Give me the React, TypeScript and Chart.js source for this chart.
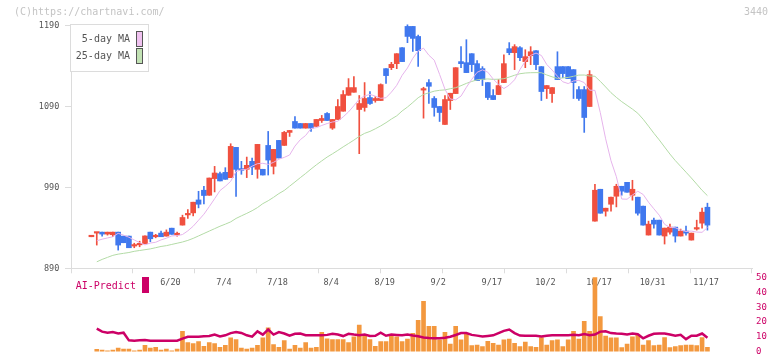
import React, { useEffect, useRef } from "react";
import { Chart, registerables } from "chart.js";

Chart.register(...registerables);

const COPYRIGHT = "(C)https://chartnavi.com/";
const STOCK_CODE = "3440";
const AI_LABEL = "AI-Predict";

const dateLabels = ["6/20", "7/4", "7/18", "8/4", "8/19", "9/2", "9/17", "10/2", "10/17", "10/31", "11/17"];
const dateIndex = [15, 25, 35, 45, 55, 65, 75, 85, 95, 105, 115];
const priceTicks = [890, 990, 1090, 1190];
const volumeTicks = [0, 10, 20, 30, 40, 50];

const opens = [
  929, 933.5, 934.7, 932.3, 931.5, 934.7, 929.8, 929.8, 917.5, 919,
  920.5, 934.7, 929, 933.5, 929.8, 939.6, 931.5, 943.4, 956, 958.5,
  974.5, 986.5, 980.3, 1000.9, 1007, 1008.6, 1002, 1039.5, 1013.2, 1012.4,
  1022.2, 1012.4, 1012.4, 1041.9, 1016.1, 1048.1, 1041.9, 1058, 1071.5, 1069,
  1063.3, 1069, 1065.4, 1072.7, 1081.4, 1063.3, 1074, 1084.2, 1103.9, 1107.6,
  1086.3, 1088.8, 1101.1, 1097.4, 1097.4, 1136.8, 1138, 1143, 1162.7, 1189,
  1189, 1176.6, 1110.3, 1119.6, 1099.9, 1090, 1067.8, 1097.4, 1106, 1145.5,
  1144.2, 1155.3, 1143, 1136.8, 1119.6, 1103.6, 1104.8, 1119.6, 1161.5, 1156.6,
  1162.7, 1145.5, 1152.8, 1159, 1139.3, 1112.1, 1106, 1139.3, 1139.3, 1139.3,
  1135.6, 1110.9, 1110.9, 1090, 948.3, 987.7, 960.6, 969.2, 979.1, 991.4,
  996.3, 980.3, 977.9, 966.8, 931.1, 949.5, 949.5, 929.9, 934.7, 940.9,
  929.9, 936, 924.9, 938.5, 945.8, 965.5,
];
const closes = [
  930, 934.5, 932.3, 934.7, 934.7, 918.7, 921.6, 915.4, 918.5, 920.5,
  930, 926.5, 930, 929, 934.7, 932, 933, 952.8, 957.5, 971.7,
  969.2, 980, 1001.6, 1007.8, 998, 1000, 1040.7, 1012.3, 1011.1, 1017.3,
  1015.2, 1043.2, 1005.3, 1023.8, 1037, 1026.3, 1058, 1060.4, 1063.3, 1063.3,
  1069, 1063.3, 1074, 1075.2, 1072.7, 1074, 1090, 1104.8, 1113.4, 1113.4,
  1093.7, 1099.9, 1093.7, 1099.9, 1117.1, 1128.2, 1142.1, 1155.3, 1145.5, 1176.6,
  1174.2, 1159, 1111.6, 1115, 1088.8, 1082.6, 1098.6, 1106.4, 1138, 1143,
  1131.9, 1141.8, 1122, 1123.3, 1101.1, 1098.6, 1115.9, 1143, 1156.6, 1164,
  1150.4, 1151.6, 1157.7, 1141.8, 1108.5, 1115.9, 1113.4, 1123.3, 1130.7, 1124.5,
  1119.6, 1099.9, 1076.4, 1129.4, 986.5, 958.1, 964.3, 977.9, 991.4, 985.3,
  984, 987.7, 958.1, 943.4, 944.6, 944.6, 931.1, 939.7, 940.9, 929.9,
  936, 933.5, 933.5, 939.6, 959.4, 943.4,
];
const highs = [
  930, 934.5, 934.7, 934.7, 934.7, 934.7, 929.8, 929.8, 921, 923.5,
  930, 934.7, 932, 936, 937.5, 939.6, 934.7, 955.7, 962.7, 971.7,
  985.2, 991.4, 1001.6, 1016, 1009, 1014.4, 1044, 1039.5, 1022.2, 1027.5,
  1026.3, 1043.2, 1012.4, 1059.2, 1037, 1048.1, 1059.2, 1060.4, 1077.7, 1069,
  1069, 1069, 1074, 1079, 1082.6, 1074, 1098.6, 1109.7, 1124.5, 1127,
  1103.6, 1119.6, 1108.5, 1102.3, 1118, 1136.8, 1144.6, 1155.3, 1162.7, 1191,
  1189, 1178.4, 1113.8, 1123.3, 1102.3, 1090, 1103.6, 1106.4, 1138, 1164,
  1172.6, 1155.3, 1146.7, 1139.3, 1119.6, 1111, 1123.3, 1154, 1169, 1166.5,
  1164, 1160.2, 1164, 1159, 1139.3, 1115.9, 1113.4, 1157.7, 1139.3, 1139.3,
  1135.6, 1114.7, 1114.7, 1134.4, 993.9, 987.7, 964.3, 977.9, 993.9, 991.4,
  996.3, 998.8, 977.9, 966.8, 948.3, 952, 949.5, 939.7, 944.6, 940.9,
  938.5, 942.1, 933.5, 949.5, 964.3, 970.5,
];
const lows = [
  929, 918.7, 929.8, 931, 929, 912.5, 921.6, 915.4, 915.4, 916.6,
  920.5, 922.8, 927.7, 929, 929.8, 932, 929.8, 943.4, 951.6, 954.8,
  964.7, 969.6, 980.3, 984.4, 998, 1000, 1002, 979, 1006.2, 1002.1,
  1005.8, 1001.3, 1005.3, 1005.3, 1006.6, 1026.3, 1041.9, 1053, 1063.3, 1063.3,
  1063.3, 1059.2, 1065.4, 1070.3, 1072.7, 1061.7, 1074, 1084.2, 1103.9, 1107.6,
  1031.7, 1084.2, 1092.5, 1095.3, 1097.4, 1118.4, 1135.6, 1136.8, 1145.5, 1168.9,
  1158.1, 1139.7, 1075.6, 1093.7, 1078, 1071.5, 1067.8, 1086.3, 1106, 1138,
  1131.9, 1133.2, 1122, 1115.9, 1098.6, 1098.6, 1104.8, 1119.6, 1154, 1135.6,
  1146.7, 1138, 1141.8, 1135.6, 1097.4, 1099.9, 1095, 1123.3, 1125.7, 1124.5,
  1099.9, 1097.4, 1058, 1090, 948.3, 958.1, 954.5, 960.6, 965.9, 980.3,
  984, 974.2, 955.7, 943.4, 931.1, 939.7, 931.1, 920, 932.3, 922.4,
  929.9, 931.1, 924.9, 937.2, 939.7, 937.2,
];
const volumes = [
  null, 1.5, 1.1, 0.5, 1.1, 2.3, 1.7, 1.7, 0.5, 1.1,
  4.2, 2.3, 2.9, 1.1, 1.7, 0.5, 1.7, 13.7, 6.1, 5.5,
  6.7, 3.6, 6.1, 5.5, 2.9, 4.2, 9.3, 8.1, 2.3, 1.7,
  2.3, 4.2, 9.3, 16.1, 4.8, 2.9, 7.4, 1.7, 4.2, 2.3,
  6.1, 2.3, 2.9, 13, 8.7, 8.1, 8.1, 8.1, 6.1, 9.9,
  18, 11.2, 8.1, 3.6, 6.7, 6.7, 11.2, 9.9, 6.7, 8.5,
  12.4, 21.2, 34, 17, 17, 8, 13, 5, 17, 8,
  12, 4, 4.4, 3.4, 7, 5.6, 4.4, 8, 8.5, 5.6,
  3.4, 6.5, 3.4, 2.9, 9.5, 4.4, 7.4, 8, 3.4, 8,
  13.7, 8.5, 20.5, 13.7, 50, 23.6, 10.5, 9.3, 9.3, 2.7,
  5, 10, 11.5, 4.4, 7.4, 4, 4.4, 9.5, 2.7, 3.4,
  4, 4.4, 4.4, 4, 9.5, 2.9,
];
const aiPredict = [
  null, 15.5, 13.5, 12.8, 13.2, 12.3, 12.8, 7.6, 7.4, 7.6,
  7.8, 7.4, 7.4, 7.4, 7.4, 7.4, 7.4, 8.8, 10, 10.1,
  10.1, 10.3, 10.5, 11.5, 10.2, 11, 12.5, 13.3, 12.6, 11,
  10.1, 13.7, 11.5, 14.9, 11.5, 13.2, 12.2, 10.7, 12, 12.2,
  11.1, 11.1, 11.1, 11.1, 11.3, 12, 11.5, 10.5, 12, 11.5,
  11.1, 11.5, 10.5, 10.7, 12.8, 10.7, 11.5, 11.3, 11, 11.5,
  10.9, 10.4, 9.6, 9.2, 9.1, 9.1, 9.4, 10, 11.2, 12.5,
  12.6, 11.3, 10.8, 10.2, 10.6, 11, 12.5, 14, 14.9, 12.5,
  10.8, 10.7, 10.7, 10.7, 10.2, 10.7, 11.1, 11.1, 11.1, 11.1,
  11.4, 11.1, 11.8, 11, 11.5, 13.5, 13.7, 12.5, 12.2, 12,
  11.6, 12.2, 11.8, 9, 10.7, 12, 12.2, 12.2, 11.5, 10.8,
  11.4, 8.4, 10.7, 10.7, 12.2, 9.3,
];
// moving-average values before enough closes are on the chart
const ma5Lead = [null, 924, 926, 927.5, 929];
const ma25Lead = [
  null, 898, 901, 903.5, 906, 907.5, 908.5, 909.5, 911, 912,
  913, 914, 915.5, 917, 918, 919.5, 921, 922.5, 924.5, 927,
  930, 933, 936, 939, 942,
];

const MA5_LABEL = "5-day MA";
const MA25_LABEL = "25-day MA";

function movingAverage(lead: (number | null)[], period: number): (number | null)[] {
  return closes.map((_, i) => {
    if (i < lead.length) return lead[i];
    let s = 0;
    for (let k = i - period; k < i; k++) s += closes[k];
    return s / period;
  });
}

const RED = "#f0503f";
const BLUE = "#4078ee";
const PINK = "#e6b4ec";
const GREEN = "#b3dba6";
const ORANGE = "#f3983e";
const MAGENTA = "#cc0066";
const AXIS = "#dcdcdc";
const TEXT = "#555555";
const FONT = '"DejaVu Sans Mono", monospace';

const XMIN = -3.81;
const XMAX = 123.32;

export default function App() {
  const mainRef = useRef<HTMLCanvasElement | null>(null);
  const volRef = useRef<HTMLCanvasElement | null>(null);

  useEffect(() => {
    Chart.defaults.font.family = FONT;
    const idx = closes.map((_, i) => i);
    const colors = idx.map((i) => (closes[i] >= opens[i] ? RED : BLUE));
    const ma5 = movingAverage(ma5Lead, 5);
    const ma25 = movingAverage(ma25Lead, 25);

    const mainDecor = {
      id: "mainDecor",
      afterDraw(chart: any) {
        const ctx = chart.ctx as CanvasRenderingContext2D;
        ctx.save();
        ctx.font = `10px ${FONT}`;
        ctx.textBaseline = "middle";
        ctx.fillStyle = "#c4c4c4";
        ctx.textAlign = "left";
        ctx.fillText(COPYRIGHT, 14, 12.5);
        ctx.textAlign = "right";
        ctx.fillText(STOCK_CODE, 768, 12.5);
        // legend
        ctx.fillStyle = "#ffffff";
        ctx.fillRect(70.5, 24.5, 78, 47);
        ctx.strokeStyle = AXIS;
        ctx.lineWidth = 1;
        ctx.strokeRect(70.5, 24.5, 78, 47);
        const items = [
          { label: chart.data.datasets[0].label, fill: "#f0c2f0", y: 31.5, ty: 39.5 },
          { label: chart.data.datasets[1].label, fill: "#c2e2b4", y: 48.5, ty: 56.5 },
        ];
        items.forEach((it) => {
          ctx.fillStyle = TEXT;
          ctx.textAlign = "right";
          ctx.fillText(it.label, 130, it.ty);
          ctx.fillStyle = it.fill;
          ctx.fillRect(136.5, it.y, 6, 15);
          ctx.strokeStyle = "#555";
          ctx.strokeRect(136.5, it.y, 6, 15);
        });
        ctx.restore();
      },
    };

    const volDecor = {
      id: "volDecor",
      afterDraw(chart: any) {
        const ctx = chart.ctx as CanvasRenderingContext2D;
        ctx.save();
        ctx.font = `10px ${FONT}`;
        ctx.textBaseline = "middle";
        ctx.textAlign = "left";
        ctx.fillStyle = MAGENTA;
        ctx.fillText(chart.data.datasets[0].label, 75.7, 286);
        ctx.fillRect(142, 277, 7, 16);
        ctx.restore();
      },
    };

    const main = new Chart(mainRef.current as HTMLCanvasElement, {
      type: "bar",
      data: {
        datasets: [
          {
            type: "line",
            label: MA5_LABEL,
            data: idx.filter((i) => ma5[i] != null).map((i) => ({ x: i, y: ma5[i] as number })),
            borderColor: PINK,
            borderWidth: 1,
            pointRadius: 0,
            fill: false,
            order: 0,
          } as any,
          {
            type: "line",
            label: MA25_LABEL,
            data: idx.filter((i) => ma25[i] != null).map((i) => ({ x: i, y: ma25[i] as number })),
            borderColor: GREEN,
            borderWidth: 1,
            pointRadius: 0,
            fill: false,
            order: 0,
          } as any,
          {
            type: "bar",
            label: "body",
            data: idx.map((i) => ({ x: i, y: [opens[i], closes[i]] })),
            backgroundColor: colors,
            barThickness: 5,
            minBarLength: 1.5,
            grouped: false,
            clip: false,
            order: 1,
          } as any,
          {
            type: "bar",
            label: "wick",
            data: idx.map((i) => ({ x: i, y: [lows[i], highs[i]] })),
            backgroundColor: colors,
            barThickness: 1,
            grouped: false,
            clip: false,
            order: 2,
          } as any,
        ],
      },
      options: {
        animation: false,
        responsive: false,
        devicePixelRatio: 1,
        layout: { padding: { top: 24, right: 20, left: 0, bottom: 0 } },
        plugins: { legend: { display: false }, tooltip: { enabled: false } },
        scales: {
          x: {
            type: "linear",
            position: "bottom",
            min: XMIN,
            max: XMAX,
            offset: false,
            weight: 0,
            grid: { drawOnChartArea: false, color: AXIS, tickLength: 5, offset: false },
            border: { color: AXIS },
            ticks: { display: false },
            afterBuildTicks: (s: any) => {
              s.ticks = Array.from({ length: 12 }, (_, k) => ({ value: XMIN + (k * (XMAX - XMIN)) / 11 }));
            },
            afterFit: (s: any) => {
              s.height = 5;
            },
          },
          x2: {
            type: "linear",
            position: "bottom",
            min: XMIN,
            max: XMAX,
            offset: false,
            weight: 1,
            grid: { display: false, drawTicks: false },
            border: { display: false },
            ticks: {
              autoSkip: false,
              maxRotation: 0,
              color: TEXT,
              font: { size: 8.5, family: FONT },
              padding: 3.9,
              callback: (_v: any, i: number) => dateLabels[i],
            },
            afterBuildTicks: (s: any) => {
              s.ticks = dateIndex.map((v) => ({ value: v - 0.25 }));
            },
            afterFit: (s: any) => {
              s.height = 26.7;
            },
          },
          y: {
            type: "linear",
            position: "left",
            min: 890,
            max: 1192,
            beginAtZero: false,
            grid: { drawOnChartArea: false, color: AXIS, tickLength: 6 },
            border: { color: AXIS },
            ticks: {
              color: TEXT,
              font: { size: 8.5, family: FONT },
              padding: 5.7,
              callback: (v: any) => String(v),
            },
            afterBuildTicks: (s: any) => {
              s.ticks = priceTicks.map((v) => ({ value: v }));
            },
            afterFit: (s: any) => {
              s.width = 71;
            },
          },
        },
      } as any,
      plugins: [mainDecor],
    });

    const vol = new Chart(volRef.current as HTMLCanvasElement, {
      type: "bar",
      data: {
        datasets: [
          {
            type: "line",
            label: AI_LABEL,
            data: idx.filter((i) => aiPredict[i] != null).map((i) => ({ x: i, y: aiPredict[i] as number })),
            borderColor: MAGENTA,
            borderWidth: 2.5,
            pointRadius: 0,
            fill: false,
            order: 0,
          } as any,
          {
            type: "bar",
            label: "volume",
            data: idx.filter((i) => volumes[i] != null).map((i) => ({ x: i, y: volumes[i] as number })),
            backgroundColor: ORANGE,
            barThickness: 4,
            grouped: false,
            order: 1,
          } as any,
        ],
      },
      options: {
        animation: false,
        responsive: false,
        devicePixelRatio: 1,
        layout: { padding: { top: 268.3, right: 0, left: 71, bottom: 3.3 } },
        plugins: { legend: { display: false }, tooltip: { enabled: false } },
        scales: {
          x: { type: "linear", min: XMIN, max: XMAX, offset: false, display: false, grid: { offset: false } },
          y: {
            type: "linear",
            position: "right",
            min: 0,
            max: 56.3,
            grid: { display: false, drawTicks: false },
            border: { display: false },
            ticks: {
              color: MAGENTA,
              font: { size: 9, family: FONT },
              padding: 4,
              callback: (v: any) => String(v),
            },
            afterBuildTicks: (s: any) => {
              s.ticks = volumeTicks.map((v) => ({ value: v }));
            },
            afterFit: (s: any) => {
              s.width = 20;
            },
          },
        },
      } as any,
      plugins: [volDecor],
    });

    return () => {
      main.destroy();
      vol.destroy();
    };
  }, []);

  return (
    <div style={{ position: "absolute", left: 0, top: 0, width: 772, height: 361, background: "#fff" }}>
      <canvas ref={mainRef} width={772} height={300} style={{ position: "absolute", left: 0, top: 0 }} />
      <canvas ref={volRef} width={772} height={361} style={{ position: "absolute", left: 0, top: 0 }} />
    </div>
  );
}
